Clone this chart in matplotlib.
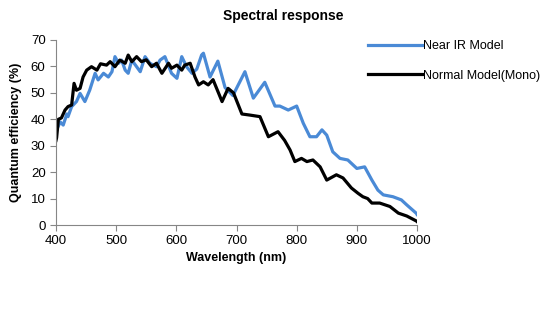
import matplotlib.pyplot as plt

# --- DATA ---
nir_wl = [400, 401, 407, 412, 418, 420, 426, 434, 440, 448, 456, 465, 470, 479, 487, 493,
          498, 504, 509, 515, 520, 526, 540, 548, 556, 567, 573, 581, 592, 601, 609, 617,
          626, 634, 642, 645, 656, 669, 681, 694, 714, 728, 747, 764, 772, 786, 800, 811,
          822, 833, 842, 850, 860, 872, 885, 900, 913, 925, 935, 944, 960, 974, 983, 999, 1000]
nir_qe = [36, 36, 39, 37.8, 42, 41, 44.8, 46.7, 49.8, 46.7, 51, 57.4, 54.9, 57.4, 56, 58,
          63.7, 61.2, 62.4, 58.6, 57.4, 62.4, 58, 63.7, 61.2, 59.9, 62.4, 63.7, 57.4, 55.5, 63.7, 59.9,
          57.4, 59, 64.3, 65, 56, 62, 52, 49, 58, 48, 54, 45, 45, 43.5, 45, 38.5,
          33.4, 33.4, 36, 34, 27.7, 25.2, 24.6, 21.4, 22, 17, 13.2, 11.4, 10.7, 9.5, 7.6, 4.4, 4]

mono_wl = [400, 401, 404, 409, 415, 420, 426, 430, 434, 440, 445, 451, 459, 468, 474, 484,
           490, 498, 506, 515, 520, 526, 534, 542, 550, 559, 567, 576, 587, 592, 601, 609,
           614, 623, 631, 637, 645, 653, 661, 676, 686, 695, 709, 722, 739, 753, 769, 780,
           789, 797, 808, 817, 827, 839, 850, 866, 877, 891, 902, 910, 918, 925, 938, 955,
           969, 983, 999, 1000]
mono_qe = [32, 33, 40, 40.5, 43.5, 44.8, 45.4, 53.6, 51, 51.7, 56, 58.6, 59.9, 58.6, 61, 60.5,
           61.8, 59.9, 62.4, 61.2, 64.3, 61.8, 63.7, 61.8, 62.5, 59.9, 61.2, 57.4, 61.2, 59.3, 60.5, 58.6,
           60.5, 61.2, 56, 53, 54.2, 53, 55, 46.7, 51.7, 50, 42, 41.6, 41, 33.4, 35.3, 32,
           28.4, 24, 25.2, 24, 24.6, 22, 17, 19, 17.8, 14, 12, 10.7, 10, 8.3, 8.3, 7,
           4.5, 3.4, 1.5, 1.3]

labels = ['Near IR Model', 'Normal Model(Mono)']
colors = ['#4a8ad6', 'black']

# --- STYLE ---
plt.rcParams.update({
    'font.family': ['Liberation Sans', 'DejaVu Sans'],
    'font.size': 9,
})

fig = plt.figure(figsize=(5.54, 3.31), dpi=100)
ax = fig.add_axes([56 / 554, 1 - 225 / 331, (417 - 56) / 554, (225 - 40) / 331])

ax.plot(nir_wl, nir_qe, color=colors[0], lw=2.3, label=labels[0], solid_joinstyle='round')
ax.plot(mono_wl, mono_qe, color=colors[1], lw=2.3, label=labels[1], solid_joinstyle='round')

ax.set_xlim(400, 1000)
ax.set_ylim(0, 70)
ax.set_xticks(range(400, 1001, 100))
ax.set_yticks(range(0, 71, 10))

for s in ['top', 'right']:
    ax.spines[s].set_visible(False)
for s in ['left', 'bottom']:
    ax.spines[s].set_color('#868686')
    ax.spines[s].set_linewidth(0.8)
ax.tick_params(colors='#868686', labelcolor='black', length=4, width=0.8, labelsize=9.5)

ax.set_xlabel('Wavelength (nm)', fontweight='bold', fontsize=9, labelpad=3)
ax.set_ylabel('Quantum efficiency (%)', fontweight='bold', fontsize=9, labelpad=6)

fig.text(283 / 554, 1 - 16 / 331, 'Spectral response', ha='center', va='center',
         fontweight='bold', fontsize=10)

fig.legend(loc='upper left', bbox_to_anchor=(362 / 554, 1 - 34 / 331), frameon=False,
           handlelength=4.3, handletextpad=0.1, labelspacing=1.4, borderpad=0,
           fontsize=9)

plt.savefig('out.png', dpi=100)
